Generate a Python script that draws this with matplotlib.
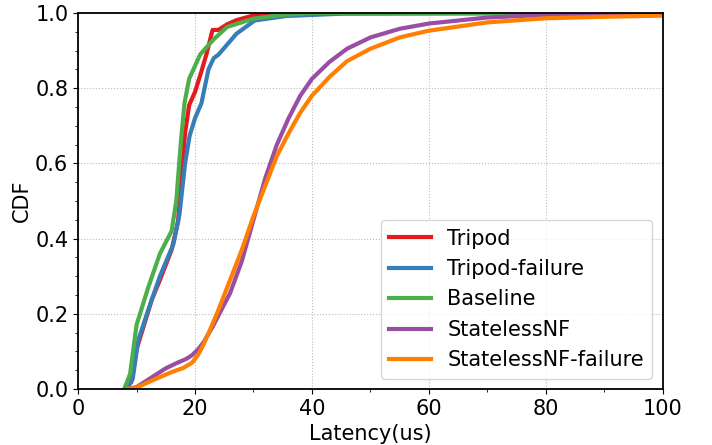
import matplotlib
matplotlib.use("Agg")
import matplotlib.pyplot as plt
from matplotlib.ticker import MultipleLocator

# latency (us) / CDF points
tripod_x = [8.0, 9.1, 10.0, 12.6, 14.0, 16.0, 17.1, 17.6, 18.3, 19.0, 20.0, 21.1, 22.0, 23.0, 24.0, 25.5, 27.1, 29.9, 35.0, 100]
tripod_y = [0.0, 0.018, 0.105, 0.237, 0.29, 0.37, 0.445, 0.55, 0.68, 0.755, 0.79, 0.845, 0.893, 0.955, 0.955, 0.97, 0.981, 0.993, 1.0, 1.0]

fail_x = [8.2, 9.35, 10.3, 12.0, 14.0, 16.3, 17.35, 18.3, 19.1, 20.0, 21.1, 22.3, 23.2, 24.0, 27.1, 30.2, 35.6, 45.0, 100]
fail_y = [0.0, 0.027, 0.13, 0.21, 0.3, 0.385, 0.465, 0.6, 0.675, 0.72, 0.76, 0.85, 0.88, 0.889, 0.945, 0.98, 0.992, 0.998, 1.0]

base_x = [7.9, 8.9, 10.0, 12.0, 14.0, 16.0, 16.8, 17.6, 18.2, 19.0, 20.9, 23.2, 25.5, 30.0, 35.0, 40.0, 100]
base_y = [0.0, 0.04, 0.17, 0.27, 0.36, 0.42, 0.5, 0.66, 0.76, 0.825, 0.89, 0.93, 0.963, 0.985, 0.995, 1.0, 1.0]

snf_x = [8.3, 10, 12, 15, 17, 18.5, 19.5, 20.5, 21.5, 23, 24.5, 26, 28, 30, 32, 34, 36, 38, 40, 43, 46, 50, 55, 60, 70, 80, 100]
snf_y = [0.0, 0.005, 0.025, 0.055, 0.07, 0.08, 0.09, 0.105, 0.125, 0.165, 0.21, 0.255, 0.34, 0.45, 0.56, 0.65, 0.72, 0.78, 0.825, 0.87, 0.905, 0.935, 0.958, 0.972, 0.988, 0.995, 0.999]

snff_x = [8.5, 10, 13, 16, 18, 19.5, 20.5, 21.5, 22.5, 24, 26, 28, 30, 32, 34, 36, 38, 40, 43, 46, 50, 55, 60, 70, 80, 90, 100]
snff_y = [0.0, 0.004, 0.025, 0.045, 0.056, 0.07, 0.09, 0.12, 0.155, 0.21, 0.29, 0.37, 0.46, 0.54, 0.62, 0.68, 0.735, 0.78, 0.83, 0.872, 0.905, 0.935, 0.953, 0.975, 0.986, 0.99, 0.993]

labels = ["Tripod", "Tripod-failure", "Baseline", "StatelessNF", "StatelessNF-failure"]
colors = ["#e41a1c", "#377eb8", "#4daf4a", "#984ea3", "#ff7f00"]

fig = plt.figure(figsize=(7.12, 4.45), dpi=100)
ax = fig.add_axes([0.1096, 0.1258, 0.8214, 0.8450])

series = [(tripod_x, tripod_y), (fail_x, fail_y), (base_x, base_y), (snf_x, snf_y), (snff_x, snff_y)]
for (xs, ys), lab, c in zip(series, labels, colors):
    ax.plot(xs, ys, color=c, lw=3, label=lab)

ax.set_xlim(0, 100)
ax.set_ylim(0, 1.0)
ax.xaxis.set_major_locator(MultipleLocator(20))
ax.xaxis.set_minor_locator(MultipleLocator(10))
ax.yaxis.set_major_locator(MultipleLocator(0.2))
ax.yaxis.set_minor_locator(MultipleLocator(0.05))
ax.grid(True, which="major", linestyle=":", color="#bbbbbb", lw=0.8)
ax.tick_params(labelsize=15)
for s in ax.spines.values():
    s.set_linewidth(1.3)

ax.set_xlabel("Latency(us)", fontsize=15)
ax.set_ylabel("CDF", fontsize=15, labelpad=2)
ax.legend(loc="lower right", fontsize=15)

fig.savefig("out.png", dpi=100)
